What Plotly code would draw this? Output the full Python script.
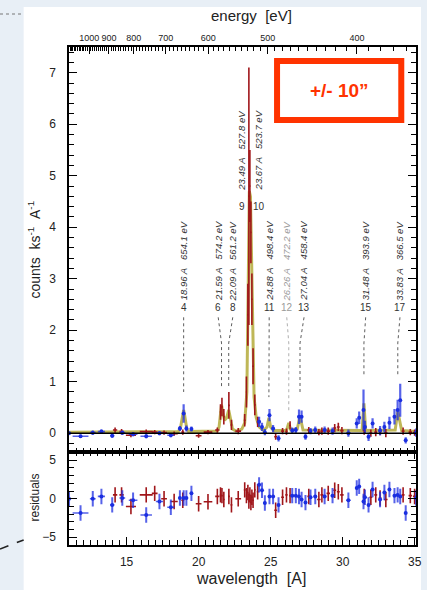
import plotly.graph_objects as go

# ---------------- RGS1 spectrum (red) ----------------
red_wl = [14.2, 14.65, 15.3, 16.36, 16.95, 17.6, 18.3, 18.9, 20.0, 20.65, 21.3,
          21.52, 21.62, 21.75, 22.1, 22.28, 22.75, 23.2, 23.32, 23.42, 23.49,
          23.56, 23.63, 23.7, 23.78, 23.9, 24.1, 25.35, 25.83, 26.1, 26.35,
          27.65, 28.35, 28.56, 29.0, 29.45, 29.7, 29.95, 31.5, 31.96, 32.3,
          32.6, 33.0, 34.2, 34.7, 35.0]
red_cnt = [0.06, 0.03, -0.04, 0.03, 0.02, 0.01, -0.01, 0.02, -0.05, 0.02, 0.06,
           0.41, 0.51, 0.32, 0.54, 0.16, 0.04, 0.25, 0.8, 2.3, 4.6,
           4.8, 3.9, 2.6, 1.3, 0.55, 0.22, -0.07, 0.04, 0.03, 0.15,
           0.06, 0.02, 0.04, 0.04, 0.1, 0.12, 0.05, 0.05, 0.0, 0.02,
           0.03, 0.0, 0.04, 0.02, 0.01]
red_cnt_err = [0.05, 0.05, 0.04, 0.04, 0.04, 0.04, 0.04, 0.05, 0.04, 0.04, 0.05,
               0.15, 0.18, 0.15, 0.26, 0.1, 0.06, 0.12, 0.3, 0.6, 2.5,
               0.7, 0.6, 0.5, 0.35, 0.2, 0.1, 0.06, 0.06, 0.06, 0.08,
               0.06, 0.06, 0.07, 0.07, 0.08, 0.08, 0.07, 0.08, 0.07, 0.08,
               0.07, 0.08, 0.07, 0.06, 0.06]
red_wl_half = [0.15, 0.15, 0.35, 0.45, 0.2, 0.2, 0.25, 0.1, 0.2, 0.3, 0.15,
               0.05, 0.05, 0.05, 0.06, 0.06, 0.2, 0.06, 0.04, 0.04, 0.03,
               0.03, 0.03, 0.03, 0.04, 0.05, 0.06, 0.1, 0.1, 0.08, 0.06,
               0.1, 0.12, 0.1, 0.12, 0.1, 0.1, 0.12, 0.1, 0.1, 0.1,
               0.1, 0.12, 0.1, 0.12, 0.12]
red_res = [0.5, 0.5, -1.0, 0.5, 0.7, 0.0, -0.35, -0.2, -0.65, -0.4, 0.3,
           0.5, 0.4, -0.1, 0.3, -0.8, 0.0, 1.15, 0.4, 0.8, -0.3,
           0.5, -0.5, 0.2, -0.2, 1.15, 0.9, -1.5, 0.2, 0.5, 0.4,
           0.3, -0.1, 0.5, 0.7, 1.1, 0.9, 0.5, 0.3, 0.2, 0.5,
           0.1, -0.1, 0.5, 0.4, 0.3]

# ---------------- RGS2 spectrum (blue) ----------------
blue_wl = [11.0, 11.8, 12.65, 13.25, 14.0, 14.7, 15.45, 16.36, 17.28, 18.07,
           18.7, 18.96, 19.15, 19.5, 24.2, 24.4, 24.6, 24.92, 25.17, 25.55,
           26.5, 26.75, 26.97, 27.15, 27.42, 27.77, 28.1, 28.75, 29.3, 30.4,
           30.98, 31.15, 31.45, 31.55, 31.8, 32.08, 32.6, 32.9, 33.25, 33.6,
           33.82, 34.0, 34.38, 35.1]
blue_cnt = [0.0, -0.06, 0.01, 0.03, -0.05, 0.01, -0.02, -0.06, 0.0, -0.04,
            0.09, 0.38, 0.09, 0.08, 0.22, 0.12, 0.02, 0.35, 0.09, -0.1,
            0.05, 0.06, 0.32, 0.32, -0.07, 0.04, 0.06, 0.06, 0.04, 0.0,
            0.19, 0.3, 0.45, 0.12, -0.07, 0.19, 0.05, 0.12, 0.2, 0.32,
            0.45, 0.64, -0.14, 0.01]
blue_cnt_err = [0.03, 0.03, 0.04, 0.04, 0.04, 0.04, 0.04, 0.04, 0.04, 0.04,
                0.05, 0.18, 0.06, 0.05, 0.1, 0.08, 0.06, 0.12, 0.07, 0.06,
                0.06, 0.06, 0.14, 0.12, 0.06, 0.06, 0.07, 0.07, 0.07, 0.07,
                0.1, 0.12, 0.4, 0.12, 0.08, 0.1, 0.09, 0.1, 0.12, 0.15,
                0.2, 0.32, 0.06, 0.08]
blue_wl_half = [0.15, 0.55, 0.2, 0.25, 0.15, 0.2, 0.3, 0.4, 0.25, 0.25,
                0.08, 0.06, 0.08, 0.1, 0.06, 0.06, 0.08, 0.06, 0.08, 0.1,
                0.08, 0.08, 0.06, 0.06, 0.08, 0.1, 0.12, 0.12, 0.12, 0.15,
                0.08, 0.06, 0.05, 0.05, 0.1, 0.08, 0.1, 0.08, 0.08, 0.06,
                0.05, 0.05, 0.08, 0.15]
blue_res = [0.0, -1.85, 0.0, 0.3, -0.8, 0.1, -0.2, -2.1, -0.35, -1.1,
            0.1, 0.1, 0.1, 0.7, 1.8, 1.1, -0.55, 0.3, 0.3, -0.8,
            0.4, 0.4, 0.3, -0.1, -0.5, 0.2, 0.3, 0.3, 0.4, -0.2,
            1.4, 1.6, -0.35, 0.2, -0.8, 1.2, -0.1, 0.8, 1.2, 0.4,
            0.5, 0.3, -1.85, 0.1]

# ---------------- best-fit model ----------------
model_wl = [11.0, 18.6, 18.75, 18.88, 18.96, 19.04, 19.18, 19.3, 21.3, 21.42,
            21.52, 21.59, 21.68, 21.8, 21.95, 22.09, 22.2, 22.35, 22.6, 23.0,
            23.2, 23.35, 23.45, 23.52, 23.6, 23.67, 23.75, 23.85, 24.0, 24.2,
            24.5, 24.75, 24.88, 25.0, 25.2, 26.1, 26.26, 26.4, 26.85, 27.0,
            27.1, 27.25, 31.35, 31.48, 31.6, 33.65, 33.83, 33.95, 34.1, 35.1]
model_cnt = [0.02, 0.03, 0.12, 0.35, 0.45, 0.33, 0.08, 0.03, 0.04, 0.12,
             0.45, 0.55, 0.4, 0.25, 0.3, 0.45, 0.3, 0.08, 0.04, 0.08,
             0.2, 0.8, 3.0, 4.7, 4.6, 3.6, 1.8, 0.7, 0.3, 0.12,
             0.05, 0.12, 0.3, 0.12, 0.05, 0.05, 0.2, 0.06, 0.08, 0.28,
             0.25, 0.06, 0.05, 0.58, 0.05, 0.06, 0.42, 0.28, 0.05, 0.03]

# ---------------- identified lines ----------------
line_ids = ["4", "6", "8", "9", "10", "11", "12", "13", "15", "17"]
line_wl = [18.96, 21.59, 22.09, 23.49, 23.67, 24.88, 26.26, 27.04, 31.48, 33.83]
line_ev = [654.1, 574.2, 561.2, 527.8, 523.7, 498.4, 472.2, 458.4, 393.9, 366.5]

# top-axis energies [eV]
energy_ticks = [1000, 900, 800, 700, 600, 500, 400]

# ---------------- layout helpers ----------------
W, H = 427, 590
HC = 12.39842  # keV * Angstrom


def px(x):
    return x / W


def py(y):
    return 1 - y / H


X_DOM = [px(70), px(422)]
Y_MAIN = [py(451.7), py(47)]
Y_RES = [py(545), py(451.7)]
XR = [11.0, 35.1]

RED = "#a0161a"
BLUE = "rgba(30,45,225,0.75)"
BLUE_DOT = "#1a2ee0"
FONT = "Liberation Sans, Arial, sans-serif"
INK = "#222222"

fig = go.Figure()

# model curve
fig.add_trace(go.Scatter(x=model_wl, y=model_cnt, mode="lines",
                         line=dict(color="rgba(175,165,45,0.8)", width=3),
                         xaxis="x", yaxis="y", hoverinfo="skip"))

# RGS1 data
fig.add_trace(go.Scatter(
    x=red_wl, y=red_cnt, mode="markers", xaxis="x", yaxis="y",
    marker=dict(size=1, color=RED),
    error_y=dict(type="data", array=red_cnt_err, color=RED, thickness=1.6, width=0),
    error_x=dict(type="data", array=red_wl_half, color=RED, thickness=1.6, width=0)))
# RGS2 data
fig.add_trace(go.Scatter(
    x=blue_wl, y=blue_cnt, mode="markers", xaxis="x", yaxis="y",
    marker=dict(size=4, color=BLUE_DOT),
    error_y=dict(type="data", array=blue_cnt_err, color=BLUE, thickness=2.2, width=0),
    error_x=dict(type="data", array=blue_wl_half, color=BLUE, thickness=1.6, width=0)))

# residuals
fig.add_trace(go.Scatter(
    x=red_wl, y=red_res, mode="markers", xaxis="x2", yaxis="y2",
    marker=dict(size=1, color=RED),
    error_y=dict(type="constant", value=1.0, color=RED, thickness=1.6, width=0),
    error_x=dict(type="data", array=red_wl_half, color=RED, thickness=1.6, width=0)))
fig.add_trace(go.Scatter(
    x=blue_wl, y=blue_res, mode="markers", xaxis="x2", yaxis="y2",
    marker=dict(size=4, color=BLUE_DOT),
    error_y=dict(type="constant", value=1.0, color=BLUE, thickness=2.0, width=0),
    error_x=dict(type="data", array=blue_wl_half, color=BLUE, thickness=1.6, width=0)))

# empty traces so the energy axes get drawn
for ax in ("x3", "x4"):
    fig.add_trace(go.Scatter(x=[None], y=[None], xaxis=ax, yaxis="y",
                             mode="markers", hoverinfo="skip"))

# zero levels and residual band
fig.add_shape(type="line", xref="x domain", yref="y", x0=0, x1=1, y0=0, y1=0,
              line=dict(color="black", width=1.5))
fig.add_shape(type="rect", xref="x2 domain", yref="y2", x0=0, x1=1, y0=-1, y1=1,
              fillcolor="#cfcfcf", line=dict(width=0), layer="below")
fig.add_shape(type="line", xref="x2 domain", yref="y2", x0=0, x1=1, y0=0, y1=0,
              line=dict(color="#8a8a8a", width=1), layer="below")

# line markers: (label x, number level, text level, end of dotted leader)
place = {
    "4": (18.96, 2.45, 3.35, 0.80),
    "6": (21.36, 2.45, 3.35, 0.90),
    "8": (22.37, 2.45, 3.35, 0.90),
    "9": (23.0, 4.41, 5.5, None),
    "10": (24.22, 4.41, 5.5, None),
    "11": (24.9, 2.45, 3.35, 0.70),
    "12": (26.12, 2.45, 3.35, 0.41),
    "13": (27.32, 2.45, 3.35, 0.78),
    "15": (31.6, 2.45, 3.35, 1.10),
    "17": (33.98, 2.45, 3.35, 1.10),
}
for lid, wl, ev in zip(line_ids, line_wl, line_ev):
    lx, ny, ty, yend = place[lid]
    col = "#9a9a9a" if lid == "12" else "#333333"
    fig.add_annotation(x=lx, y=ny, xref="x", yref="y", text=lid, showarrow=False,
                       font=dict(family=FONT, size=10, color=col))
    fig.add_annotation(x=lx, y=ty, xref="x", yref="y", textangle=-90, showarrow=False,
                       text=f"<i>{wl:.2f} A\u00a0\u00a0\u00a0{ev:.1f} eV</i>",
                       font=dict(family=FONT, size=9.5, color=col))
    if yend is not None:
        fig.add_trace(go.Scatter(
            x=[lx, wl, wl], y=[ny - 0.2, ny - 0.7, yend], mode="lines",
            xaxis="x", yaxis="y", hoverinfo="skip",
            line=dict(color=col, width=0.8, dash="dot")))

axis_common = dict(showline=True, linecolor="black", linewidth=1.5, ticks="inside",
                   tickcolor="black", showgrid=False, zeroline=False,
                   tickfont=dict(family=FONT, size=12, color=INK))

fig.update_layout(
    width=W, height=H, showlegend=False,
    margin=dict(l=0, r=0, t=0, b=0),
    paper_bgcolor="#e8eff6", plot_bgcolor="white",
    xaxis=dict(domain=X_DOM, anchor="y", range=XR, showticklabels=False,
               dtick=5, ticklen=6, mirror=True,
               minor=dict(dtick=0.5, ticklen=4, ticks="inside", tickcolor="black"),
               **{k: v for k, v in axis_common.items() if k != "tickfont"}),
    yaxis=dict(domain=Y_MAIN, anchor="x", range=[-0.36, 7.5], dtick=1, ticklen=8,
               mirror="ticks", ticklabelstandoff=9,
               minor=dict(dtick=0.2, ticklen=5, ticks="inside", tickcolor="black"),
               **axis_common),
    xaxis2=dict(domain=X_DOM, anchor="y2", range=XR, matches="x", dtick=5,
                ticklen=8, mirror="ticks", ticklabelstandoff=5,
                ticklabeloverflow="allow",
                minor=dict(dtick=0.5, ticklen=5, ticks="inside", tickcolor="black"),
                **axis_common),
    yaxis2=dict(domain=Y_RES, anchor="x2", range=[-6, 6.1], dtick=5, ticklen=8,
                mirror="ticks", ticklabelstandoff=9,
                minor=dict(dtick=1, ticklen=5, ticks="inside", tickcolor="black"),
                **axis_common),
    xaxis3=dict(overlaying="x", side="top", anchor="y", range=XR,
                tickmode="array", tickvals=[HC * 1000 / e for e in energy_ticks],
                ticktext=[str(e) for e in energy_ticks], ticks="inside", ticklen=7,
                tickcolor="black", showgrid=False, zeroline=False, showline=False,
                ticklabelstandoff=3, tickangle=0,
                tickfont=dict(family="Liberation Sans Narrow, Arial Narrow, sans-serif",
                              size=9, color=INK)),
    xaxis4=dict(overlaying="x", side="top", anchor="y", range=XR,
                tickmode="array", tickvals=[HC * 1000 / e for e in range(360, 1130, 10)],
                showticklabels=False, ticks="inside", ticklen=4, tickcolor="black",
                showgrid=False, zeroline=False, showline=False),
)

# white page behind the chart
fig.add_shape(type="rect", xref="paper", yref="paper", x0=px(24), x1=1, y0=0, y1=py(7),
              fillcolor="white", line=dict(width=0), layer="below")
fig.add_shape(type="line", xref="paper", yref="paper", x0=0, x1=px(24), y0=py(14), y1=py(14),
              line=dict(color="#777777", width=1, dash="dot"))
fig.add_shape(type="line", xref="paper", yref="paper", x0=0, x1=px(24), y0=py(549), y1=py(540),
              line=dict(color="#222222", width=1.6, dash="dash"))

# aperture box
fig.add_shape(type="rect", xref="paper", yref="paper", x0=px(281), x1=px(407),
              y0=py(120), y1=py(61), fillcolor="white",
              line=dict(color="#ff3300", width=6))


def title(text, x, y, size, angle=0):
    fig.add_annotation(x=px(x), y=py(y), xref="paper", yref="paper", showarrow=False,
                       xanchor="center", yanchor="middle", textangle=angle, text=text,
                       font=dict(family=FONT, size=size, color=INK))


fig.add_annotation(x=px(344), y=py(90), xref="paper", yref="paper", showarrow=False,
                   xanchor="center", yanchor="middle", text="<b>+/- 10\u201d</b>",
                   font=dict(family=FONT, size=19, color="#ff3300"))

# axis titles
title("energy\u00a0\u00a0[eV]", 255, 15, 15)
title("wavelength\u00a0\u00a0[A]", 255, 578, 16)
title("counts\u00a0\u00a0ks<sup>-1</sup>\u00a0\u00a0A<sup>-1</sup>", 35, 250, 14, -90)
title("residuals", 35, 498, 12, -90)

fig.write_html("out.html")
